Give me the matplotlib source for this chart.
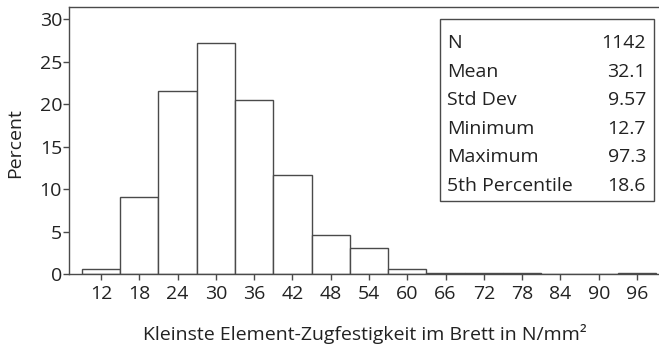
import matplotlib
matplotlib.use("Agg")
import matplotlib.pyplot as plt
from matplotlib.patches import Rectangle

# Histogram of the smallest element tensile strength per board
bin_centers = [12, 18, 24, 30, 36, 42, 48, 54, 60, 66, 72, 78, 84, 90, 96]
percent = [0.6, 9.1, 21.6, 27.2, 20.5, 11.7, 4.6, 3.1, 0.6, 0.1, 0.1, 0.1, 0.0, 0.0, 0.1]
x_ticks = bin_centers
y_ticks = [0, 5, 10, 15, 20, 25, 30]

stat_names = ["N", "Mean", "Std Dev", "Minimum", "Maximum", "5th Percentile"]
stat_values = ["1142", "32.1", "9.57", "12.7", "97.3", "18.6"]

plt.rcParams["font.family"] = ["Open Sans", "DejaVu Sans"]
text_color = "#222222"
line_color = "#4a4a4a"
fs = 14

W, H = 659, 347
fig = plt.figure(figsize=(W / 100, H / 100), dpi=100)
ax = fig.add_axes([69 / W, 1 - 274.3 / H, 600 / W, 267.3 / H])

ax.bar(bin_centers, percent, width=6, facecolor="white", edgecolor=line_color,
       linewidth=1.0, zorder=2)

ax.set_xlim(7, 101)
ax.set_ylim(0, 31.45)
ax.set_xticks(x_ticks)
ax.set_yticks(y_ticks)
ax.tick_params(axis="both", colors=line_color, labelcolor=text_color,
               labelsize=fs, length=4, width=1.0)
ax.tick_params(axis="x", pad=4)
ax.tick_params(axis="y", pad=1)
for side in ax.spines.values():
    side.set_color(line_color)
    side.set_linewidth(1.0)

ax.set_ylabel("Percent", fontsize=fs, color=text_color, va="center")
ax.yaxis.set_label_coords(-54 / 600, 0.49)
ax.set_xlabel("Kleinste Element-Zugfestigkeit im Brett in N/mm²", fontsize=fs,
              color=text_color, va="center")
ax.xaxis.set_label_coords((365 - 69) / 600, -(334 - 274.3) / 267.3)

# statistics box drawn in pixel coordinates of the figure
def px(x, y):
    return x / W, 1 - y / H

box_l, box_t, box_r, box_b = 440, 19, 654, 201
bx, by = px(box_l, box_b)
fig.patches.append(Rectangle((bx, by), (box_r - box_l) / W, (box_b - box_t) / H,
                             transform=fig.transFigure, facecolor="white",
                             edgecolor=line_color, linewidth=1.0, zorder=5))
row_y0, row_step = 43, 28.6
for i, (name, val) in enumerate(zip(stat_names, stat_values)):
    y = row_y0 + i * row_step
    fig.text(*px(447, y), name, ha="left", va="center", fontsize=fs,
             color=text_color, zorder=6)
    fig.text(*px(646, y), val, ha="right", va="center", fontsize=fs,
             color=text_color, zorder=6)

fig.savefig("out.png", dpi=100)
